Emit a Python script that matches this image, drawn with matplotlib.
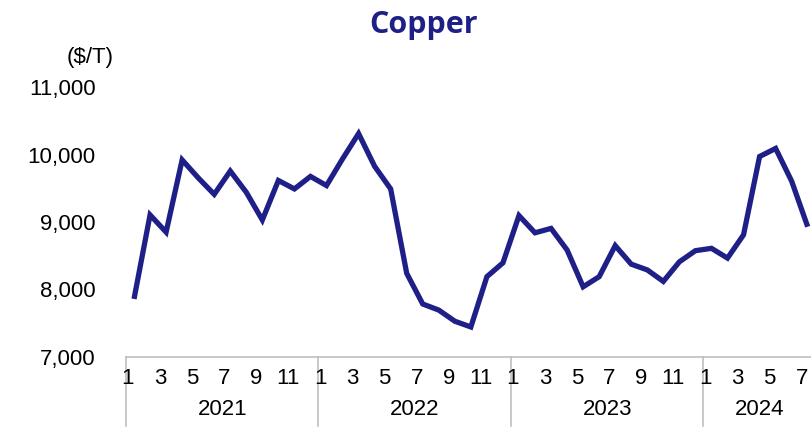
import matplotlib
matplotlib.use("Agg")
import matplotlib.pyplot as plt
import numpy as np

years = ["2021", "2022", "2023", "2024"]
months_per_year = [12, 12, 12, 7]
month_tick_labels = ["1", "3", "5", "7", "9", "11"]
prices = [
    7860, 9105, 8850, 9920, 9655, 9410, 9755, 9440, 9030, 9615, 9490, 9675,
    9540, 9935, 10310, 9825, 9490, 8240, 7785, 7695, 7530, 7445, 8190, 8395,
    9095, 8840, 8905, 8585, 8040, 8190, 8650, 8375, 8290, 8120, 8410, 8575,
    8610, 8465, 8810, 9970, 10090, 9605, 8930,
]
yticks = [7000, 8000, 9000, 10000, 11000]

font = "Liberation Sans"

W, H = 812, 433
fig = plt.figure(figsize=(W / 100, H / 100), dpi=100)
n = len(prices)
step = 16.04
left = 126
ax = fig.add_axes([left / W, 1 - 357 / H, n * step / W, (357 - 87) / H])
x = np.arange(n)
navy = "#1F1F88"
ax.plot(x, prices, color=navy, lw=3.8, solid_joinstyle="miter", solid_capstyle="butt", clip_on=False)
ax.set_xlim(-0.5, n - 0.5)
ax.set_ylim(7000, 11000)
for s in ["top", "right", "left"]:
    ax.spines[s].set_visible(False)
ax.spines["bottom"].set_color("#BFBFBF")
ax.spines["bottom"].set_linewidth(1.2)
ax.set_yticks(yticks)
ax.set_yticklabels([f"{v:,}" for v in yticks], fontfamily=font, fontsize=16)
ax.tick_params(axis="y", length=0, pad=22)
ax.set_xticks([])

# month labels and year groups
start = 0
trans = ax.get_xaxis_transform()
for yr, m in zip(years, months_per_year):
    for k in range(0, m, 2):
        ax.text(start + k - 0.38, -0.078, month_tick_labels[k // 2], transform=trans,
                ha="center", va="center", fontsize=16, fontfamily=font, clip_on=False)
    ax.text(start + (m - 1) / 2, -0.195, yr, transform=trans, ha="center", va="center",
            fontsize=16, fontfamily=font, clip_on=False)
    ax.plot([start - 0.5, start - 0.5], [0, -0.255], transform=trans, color="#BFBFBF",
            lw=1.2, clip_on=False)
    start += m

fig.text(424 / W, 1 - 25 / H, "Copper", ha="center", va="center", fontsize=22,
         fontweight="bold", color=navy, fontfamily="Open Sans")
fig.text(90 / W, 1 - 57 / H, "($/T)", ha="center", va="center", fontsize=16,
         fontfamily=font)

fig.savefig("out.png", dpi=100)
